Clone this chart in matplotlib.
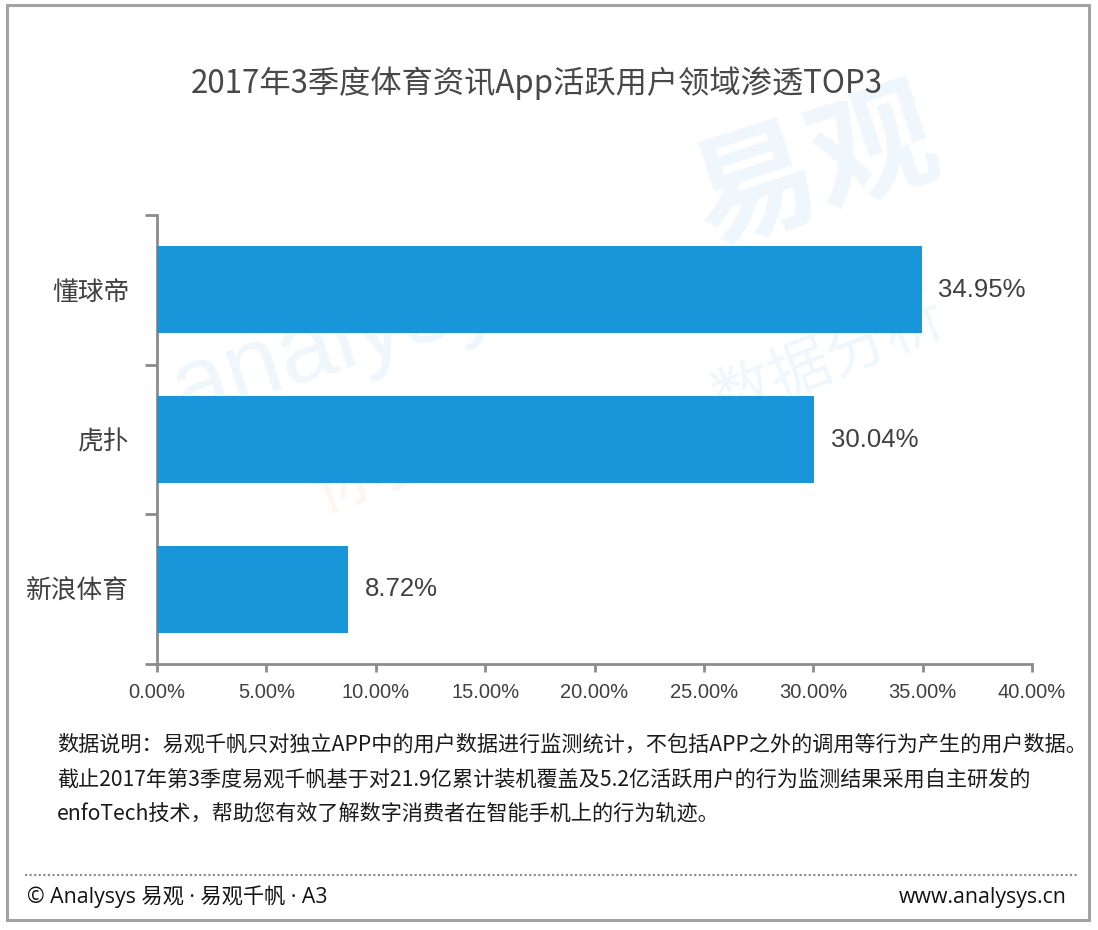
import matplotlib
matplotlib.use("Agg")
import matplotlib.pyplot as plt
from matplotlib.patches import Rectangle
from matplotlib.lines import Line2D
from matplotlib.ticker import FixedLocator, FuncFormatter

# ---- data ----
categories = ["懂球帝", "虎扑", "新浪体育"]
values = [34.95, 30.04, 8.72]
value_labels = ["34.95%", "30.04%", "8.72%"]
x_ticks = [0, 5, 10, 15, 20, 25, 30, 35, 40]
title = "2017年3季度体育资讯App活跃用户领域渗透TOP3"
note_lines = [
    "数据说明：易观千帆只对独立APP中的用户数据进行监测统计，不包括APP之外的调用等行为产生的用户数据。",
    "截止2017年第3季度易观千帆基于对21.9亿累计装机覆盖及5.2亿活跃用户的行为监测结果采用自主研发的",
    "enfoTech技术，帮助您有效了解数字消费者在智能手机上的行为轨迹。",
]
footer_left = "© Analysys 易观 · 易观千帆 · A3"
footer_right = "www.analysys.cn"

CJK = ["Noto Sans CJK SC", "DejaVu Sans"]
LAT = ["Liberation Sans", "DejaVu Sans"]
MIX = ["Open Sans", "Noto Sans CJK SC", "DejaVu Sans"]
plt.rcParams["font.family"] = CJK

W, H = 1098, 930
fig = plt.figure(figsize=(W / 100, H / 100), dpi=100)
fig.patch.set_facecolor("white")

def fx(px):
    return px / W

def fy(py):
    return 1 - py / H

# faint watermark (behind everything)
wm_blue = "#f0f7fc"
fig.text(fx(815), fy(170), "易观", fontsize=90, color=wm_blue, rotation=18,
         ha="center", va="center", family=CJK, zorder=-5, fontweight="bold")
fig.text(fx(360), fy(335), "analysys", fontsize=72, color=wm_blue, rotation=18,
         ha="center", va="center", family=LAT, zorder=-5)
fig.text(fx(830), fy(360), "数据分析", fontsize=44, color=wm_blue, rotation=22,
         ha="center", va="center", family=CJK, zorder=-5)
fig.text(fx(380), fy(470), "你要", fontsize=50, color="#fdf5f0", rotation=20,
         ha="center", va="center", family=CJK, zorder=-5)

# frame
fig.patches.append(Rectangle((fx(7), fy(920)), fx(1089) - fx(7), fy(5) - fy(920),
                             transform=fig.transFigure, fill=False,
                             edgecolor="#a3a3a3", linewidth=2.2, zorder=5))

# title
fig.text(fx(537), fy(83), title, fontsize=22.5, color="#484848",
         ha="center", va="center", family=CJK)

# axes
ax = fig.add_axes([fx(157), fy(664), fx(1032) - fx(157), fy(215) - fy(664)])
ax.set_zorder(1)
ax.patch.set_alpha(0)
ypos = list(range(len(categories)))
ax.barh(ypos, values, height=0.58, color="#1996d9", zorder=3)
ax.set_xlim(0, 40)
ax.set_ylim(len(categories) - 0.5, -0.5)

ax.set_yticks(ypos)
ax.set_yticklabels(categories, fontsize=18.5, color="#404040", family=CJK)
ax.yaxis.set_minor_locator(FixedLocator([i - 0.5 for i in range(len(categories) + 1)]))
ax.tick_params(axis="y", which="major", length=0, pad=20)
ax.tick_params(axis="y", which="minor", length=9, width=2, color="#8c8c8c", direction="out")

ax.set_xticks(x_ticks)
ax.xaxis.set_major_formatter(FuncFormatter(lambda v, p: f"{v:.2f}%"))
ax.tick_params(axis="x", length=6, width=2, color="#8c8c8c", pad=8, labelsize=14.5,
               labelcolor="#404040")
for lbl in ax.get_xticklabels():
    lbl.set_family(LAT)

for s in ["top", "right"]:
    ax.spines[s].set_visible(False)
for s in ["left", "bottom"]:
    ax.spines[s].set_color("#8c8c8c")
    ax.spines[s].set_linewidth(2)

for y, v, t in zip(ypos, values, value_labels):
    ax.annotate(t, xy=(v, y), xytext=(12, 0), textcoords="offset points",
                ha="left", va="center", fontsize=18.5, color="#404040", family=LAT)

# note text
for i, line in enumerate(note_lines):
    fig.text(fx(57), fy(745 + i * 34.5), line, fontsize=15.2, color="#1a1a1a",
             ha="left", va="center", family=CJK)

# dotted separator
fig.add_artist(Line2D([fx(25), fx(1078)], [fy(875), fy(875)], transform=fig.transFigure,
                      color="#8a8a8a", linewidth=1.5, linestyle=(0, (1, 1.2))))

# footer
fig.text(fx(27), fy(897), footer_left, fontsize=15.3, color="#111111",
         ha="left", va="center", family=MIX)
fig.text(fx(1067), fy(897), footer_right, fontsize=15.3, color="#111111",
         ha="right", va="center", family=MIX)

fig.savefig("out.png", dpi=100)
